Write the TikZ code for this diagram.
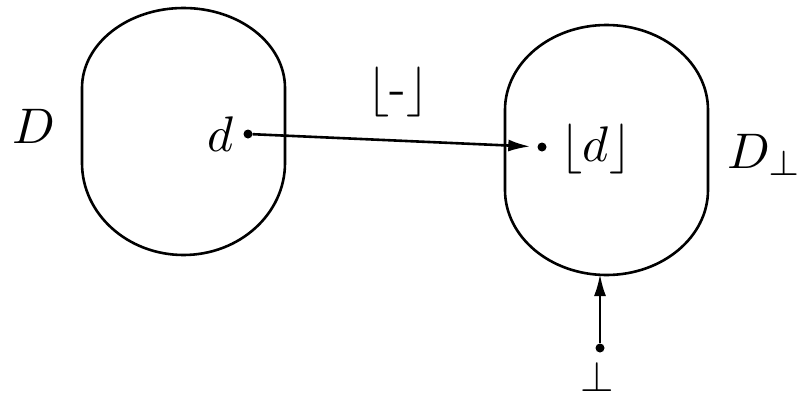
\documentclass[tikz,border=0pt]{standalone}
\usetikzlibrary{arrows.meta}
\newcommand{\bigtxt}[1]{\scalebox{5}{#1}}
\newcommand{\midtxt}[1]{\scalebox{4.3}{#1}}
\begin{document}
\begin{tikzpicture}[x=1pt,y=-1pt,
  lbl/.style={inner sep=0pt},
  pt/.style={circle, fill=black, inner sep=0pt, minimum size=9pt},
  blob/.style={line width=2.6pt},
  arr/.style={-{Latex[length=22pt,width=12pt]}, line width=2.6pt}]
\useasboundingbox (0,0) rectangle (801,399);
% left domain D
\draw[blob] (82,88) -- (82,163)
  arc[start angle=180, end angle=0, x radius=101.5, y radius=92]
  -- (285,88)
  arc[start angle=0, end angle=-180, x radius=101.5, y radius=80] -- cycle;
% right domain D_perp
\draw[blob] (505,110) -- (505,190)
  arc[start angle=180, end angle=0, x radius=101.5, y radius=85]
  -- (708,110)
  arc[start angle=0, end angle=-180, x radius=101.5, y radius=85] -- cycle;
\coordinate (rbot) at (600,274);
% labels
\node[lbl] (D) at (34,126) {\bigtxt{$D$}};
\node[lbl, anchor=base west] (Dp) at (727,168) {\bigtxt{$D_\perp$}};
\node[lbl] (dl) at (221,134.5) {\bigtxt{$d$}};
\node[lbl] (ldl) at (596,149) {\bigtxt{$\lfloor d\rfloor$}};
\node[lbl] (map) at (398,92) {\bigtxt{$\lfloor\mbox{-}\rfloor$}};
% points
\node[pt] (d) at (248,134) {};
\node[pt] (rd) at (542,147) {};
\node[pt] (bd) at (600,348) {};
\node[lbl] (bot) at (597,377) {\midtxt{$\perp$}};
% connectors
\draw[arr, shorten >=7pt] (d) -- (rd);
\draw[arr] (bd) -- (rbot);
\end{tikzpicture}
\end{document}
